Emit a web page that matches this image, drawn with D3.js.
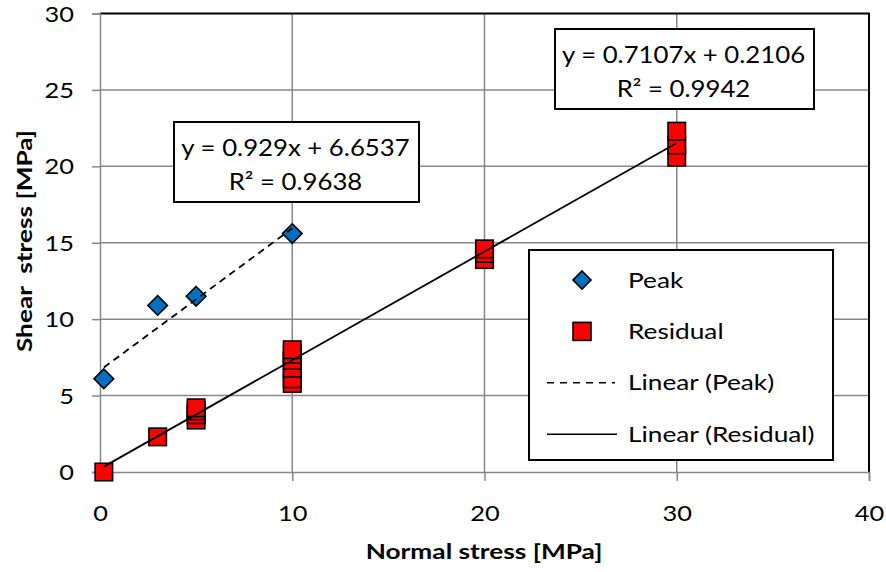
<!DOCTYPE html>
<html>
<head>
<meta charset="utf-8">
<script src="https://cdn.jsdelivr.net/npm/d3@7"></script>
<style>
    body { margin: 0; background: #fff; }
    text { font-family: Lato, "Open Sans", sans-serif; fill: #000; }
</style>
</head>
<body>
<div id="chart"></div>
<script>
// values
var peakX = [0.2, 3, 5, 10];
var peakY = [6.1, 10.9, 11.5, 15.6];

var residualX = [0.2, 3, 5, 5, 5, 5, 10, 10, 10, 10, 10, 10, 20, 20, 20, 30, 30, 30];
var residualY = [0, 2.3, 3.4, 3.75, 4.0, 4.2, 5.8, 6.1, 6.8, 7.3, 7.7, 8.0, 13.9, 14.3, 14.6, 20.6, 21.4, 22.3];

// trendline coefficients (Peak, Residual)
var fitSlope = [0.929, 0.7107];
var fitIntercept = [6.6537, 0.2106];
var fitR2 = ["0.9638", "0.9942"];

var xTicks = [0, 10, 20, 30, 40];
var yTicks = [0, 5, 10, 15, 20, 25, 30];
var legendLabels = ["Peak", "Residual", "Linear (Peak)", "Linear (Residual)"];

var W = 886, H = 572;
var pLeft = 100, pRight = 869, pTop = 13.5, pBottom = 472;

var svg = d3.select("#chart").append("svg")
    .attr("width", W)
    .attr("height", H);

var x = d3.scaleLinear().domain([0, 40]).range([pLeft, pRight]);
var y = d3.scaleLinear().domain([0, 30]).range([pBottom, pTop]);

var gridColor = "#878787";

// text stretched wider, the source font runs wide
function label(g, px, py, str, size, sx, anchor, weight, rot) {
    return g.append("text")
        .attr("transform", "translate(" + px + "," + py + ")" + (rot ? " rotate(" + rot + ")" : "") + " scale(" + sx + ",1)")
        .attr("text-anchor", anchor || "start")
        .attr("xml:space", "preserve")
        .style("font-size", size + "px")
        .style("font-weight", weight || "normal")
        .text(str);
}

// grid
svg.append("g").selectAll("line")
    .data(yTicks.filter(function(d) { return d > 0 && d < 30; }))
    .enter().append("line")
    .attr("x1", pLeft).attr("x2", pRight)
    .attr("y1", function(d) { return y(d); })
    .attr("y2", function(d) { return y(d); })
    .attr("stroke", gridColor).attr("stroke-width", 1.5);
svg.append("g").selectAll("line")
    .data(xTicks.filter(function(d) { return d > 0 && d < 40; }))
    .enter().append("line")
    .attr("y1", pTop).attr("y2", pBottom)
    .attr("x1", function(d) { return x(d); })
    .attr("x2", function(d) { return x(d); })
    .attr("stroke", gridColor).attr("stroke-width", 1.5);

// plot frame: top and right black
svg.append("path")
    .attr("d", "M" + pLeft + "," + pTop + "H" + pRight + "V" + pBottom)
    .attr("fill", "none").attr("stroke", "#000").attr("stroke-width", 2);

// axes
var xAxis = svg.append("g")
    .attr("transform", "translate(0," + pBottom + ")")
    .call(d3.axisBottom(x).tickValues(xTicks).tickSize(9));
var yAxis = svg.append("g")
    .attr("transform", "translate(" + pLeft + ",0)")
    .call(d3.axisLeft(y).tickValues(yTicks).tickSize(8));

[xAxis, yAxis].forEach(function(g) {
    g.select(".domain").attr("stroke", gridColor).attr("stroke-width", 1.5);
    g.selectAll(".tick line").attr("stroke", gridColor).attr("stroke-width", 1.5);
    g.selectAll(".tick text").remove();
});
xAxis.selectAll(".tick").each(function(d) {
    label(d3.select(this), 0, 49, d, 21.5, 1.18, "middle");
});
yAxis.selectAll(".tick").each(function(d) {
    label(d3.select(this), -26, 7.5, d, 21.5, 1.18, "end");
});

// axis titles
label(svg, 484, 559, "Normal stress [MPa]", 21, 1.25, "middle", "bold");
label(svg, 32, 241, "Shear  stress [MPa]", 21, 1.25, "middle", "bold", -90);

// markers
var sq = 17.5;
svg.append("g").selectAll("rect")
    .data(d3.range(residualX.length))
    .enter().append("rect")
    .attr("x", function(i) { return x(residualX[i]) - sq / 2; })
    .attr("y", function(i) { return y(residualY[i]) - sq / 2; })
    .attr("width", sq).attr("height", sq)
    .attr("fill", "#ff0000").attr("stroke", "#000").attr("stroke-width", 1.6);

var dia = 9.8;
svg.append("g").selectAll("path")
    .data(d3.range(peakX.length))
    .enter().append("path")
    .attr("transform", function(i) { return "translate(" + x(peakX[i]) + "," + y(peakY[i]) + ")"; })
    .attr("d", "M0," + (-dia) + "L" + dia + ",0L0," + dia + "L" + (-dia) + ",0Z")
    .attr("fill", "#0070c0").attr("stroke", "#000").attr("stroke-width", 1.6);

// trend lines
var seriesX = [peakX, residualX];
var line = d3.line()
    .x(function(d) { return x(d[0]); })
    .y(function(d) { return y(d[1]); });
seriesX.forEach(function(xs, k) {
    var ext = d3.extent(xs);
    var pts = ext.map(function(v) { return [v, fitSlope[k] * v + fitIntercept[k]]; });
    svg.append("path")
        .datum(pts)
        .attr("d", line)
        .attr("fill", "none")
        .attr("stroke", "#000")
        .attr("stroke-width", 1.8)
        .attr("stroke-dasharray", k == 0 ? "7,5" : null);
});

// equation boxes
var boxes = [
    {x: 174, y: 122, w: 245, h: 80},
    {x: 555, y: 29, w: 259, h: 80}
];
boxes.forEach(function(b, k) {
    svg.append("rect")
        .attr("x", b.x).attr("y", b.y).attr("width", b.w).attr("height", b.h)
        .attr("fill", "#fff").attr("stroke", "#000").attr("stroke-width", 2);
    var cx = b.x + b.w / 2 - 1;
    label(svg, cx, b.y + 33.5, "y = " + fitSlope[k] + "x + " + fitIntercept[k], 23, 1.12, "middle");
    label(svg, cx, b.y + 68, "R\u00b2 = " + fitR2[k], 23, 1.12, "middle");
});

// legend
var lg = svg.append("g");
lg.append("rect")
    .attr("x", 529).attr("y", 250).attr("width", 304).attr("height", 210)
    .attr("fill", "#fff").attr("stroke", "#000").attr("stroke-width", 2);
var ly = function(i) { return 280 + i * 51.4; };
var symX = 582;
lg.append("path")
    .attr("transform", "translate(" + symX + "," + ly(0) + ")")
    .attr("d", "M0,-9L9,0L0,9L-9,0Z")
    .attr("fill", "#0070c0").attr("stroke", "#000").attr("stroke-width", 1.6);
lg.append("rect")
    .attr("x", symX - 9).attr("y", ly(1) - 9).attr("width", 18).attr("height", 18)
    .attr("fill", "#ff0000").attr("stroke", "#000").attr("stroke-width", 1.6);
lg.append("line")
    .attr("x1", 547).attr("x2", 615).attr("y1", ly(2)).attr("y2", ly(2))
    .attr("stroke", "#000").attr("stroke-width", 1.5).attr("stroke-dasharray", "7,6");
lg.append("line")
    .attr("x1", 547).attr("x2", 617).attr("y1", ly(3)).attr("y2", ly(3))
    .attr("stroke", "#000").attr("stroke-width", 1.5);
legendLabels.forEach(function(d, i) {
    label(lg, 628, ly(i) + 7.5, d, 21.5, 1.22, "start");
});
</script>
</body>
</html>
